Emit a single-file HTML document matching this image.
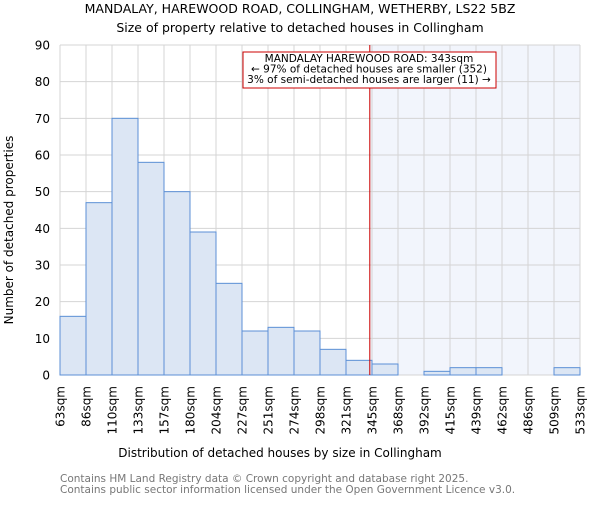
<!DOCTYPE html>
<html><head><meta charset="utf-8"><style>
body{margin:0;background:#fff}
svg{font-family:"DejaVu Sans","Liberation Sans",sans-serif}
</style></head><body>
<svg id="chart" width="600" height="500" viewBox="0 0 600 500">
<text x="300" y="13" text-anchor="middle" font-size="12.5">MANDALAY, HAREWOOD ROAD, COLLINGHAM, WETHERBY, LS22 5BZ</text>
<text x="300" y="32" text-anchor="middle" font-size="12.5">Size of property relative to detached houses in Collingham</text>
<g id="grid"></g><g id="bars"></g><g id="axes"></g>
<text transform="translate(13,230) rotate(-90)" text-anchor="middle" font-size="12">Number of detached properties</text>
<text x="280" y="457" text-anchor="middle" font-size="12">Distribution of detached houses by size in Collingham</text>
<text x="60" y="482" font-size="10.5" fill="#777">Contains HM Land Registry data © Crown copyright and database right 2025.</text>
<text x="60" y="493" font-size="10.5" fill="#777">Contains public sector information licensed under the Open Government Licence v3.0.</text>
</svg>
<script>
const categories=["63sqm","86sqm","110sqm","133sqm","157sqm","180sqm","204sqm","227sqm","251sqm","274sqm","298sqm","321sqm","345sqm","368sqm","392sqm","415sqm","439sqm","462sqm","486sqm","509sqm","533sqm"];
const counts=[16,47,70,58,50,39,25,12,13,12,7,4,3,0,1,2,2,0,0,2];
const yTicks=[0,10,20,30,40,50,60,70,80,90];
const markerValue=343;
const binStart=63, binWidthSqm=23.5;
const X0=60,X1=580,Y0=375,Y1=45,YMAX=90;
const NS="http://www.w3.org/2000/svg";
const bw=(X1-X0)/counts.length;
const xs=i=>X0+i*bw;
const ys=v=>Y0-(v/YMAX)*(Y0-Y1);
const xv=v=>X0+(v-binStart)/binWidthSqm*bw;
function mk(tag,attrs,parent){const e=document.createElementNS(NS,tag);for(const k in attrs)e.setAttribute(k,attrs[k]);parent.appendChild(e);return e;}
const grid=document.getElementById('grid'),bars=document.getElementById('bars'),axes=document.getElementById('axes');
const mx=xv(markerValue);
const bg=mk('rect',{x:X0,y:Y1,width:X1-X0,height:Y0-Y1,fill:'#fff'},grid);


const sh=mk('rect',{x:mx,y:Y1,width:X1-mx,height:Y0-Y1,fill:'#f2f5fc'},grid);


for(let i=0;i<=counts.length;i++){const l=mk('line',{x1:xs(i),x2:xs(i),y1:Y1,y2:Y0,stroke:'#d4d4d4','stroke-width':1},grid);

}
yTicks.forEach(t=>{const l=mk('line',{x1:X0,x2:X1,y1:ys(t),y2:ys(t),stroke:'#d4d4d4','stroke-width':1},grid);


const tx=mk('text',{x:X0-10,y:ys(t)+4.5,'text-anchor':'end','font-size':12},axes);tx.textContent=t;

});
counts.forEach((c,i)=>{const r=mk('rect',{x:xs(i),y:ys(c),width:bw,height:Y0-ys(c),fill:'#dce6f4',stroke:'#5b8fd6','stroke-width':1},bars);

});
categories.forEach((c,i)=>{const x=xs(i);const t=mk('text',{transform:`translate(${x+4.5},386) rotate(-90)`,'text-anchor':'end','font-size':12},axes);t.textContent=c;

});
const ml=mk('line',{x1:mx,x2:mx,y1:Y1,y2:Y0,stroke:'#cc0000','stroke-width':1},bars);


const box=mk('rect',{x:243,y:52,width:253,height:36,fill:'#fff',stroke:'#cc0000','stroke-width':1},bars);


["MANDALAY HAREWOOD ROAD: 343sqm","← 97% of detached houses are smaller (352)","3% of semi-detached houses are larger (11) →"].forEach((s,i)=>{const t=mk('text',{x:369,y:62+i*10.5,'text-anchor':'middle','font-size':10.5},bars);t.textContent=s;

});
</script>
</body></html>
